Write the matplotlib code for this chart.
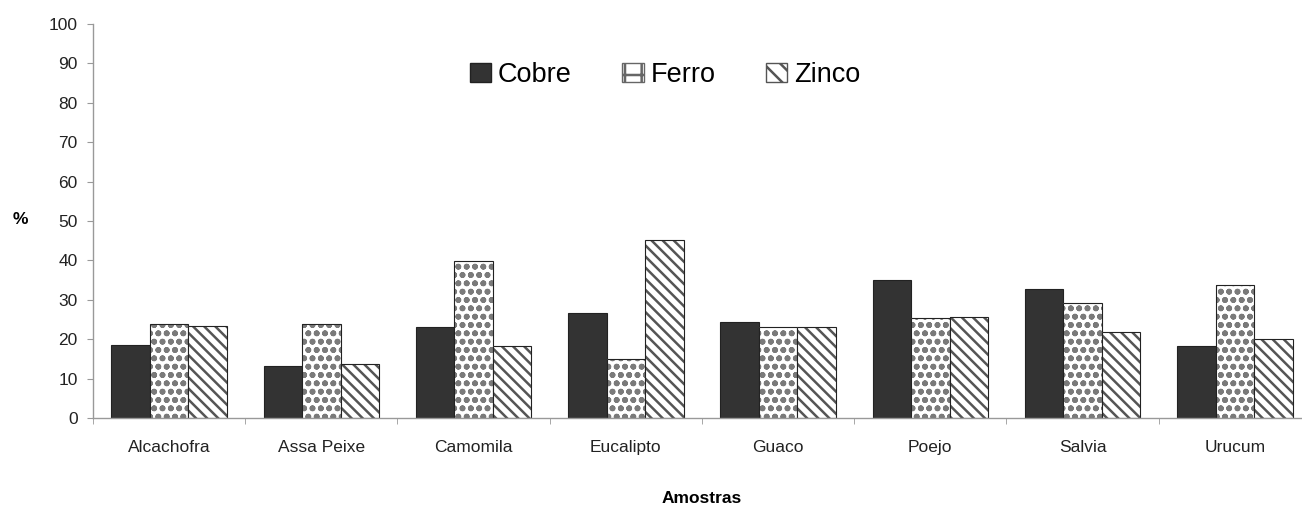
import numpy as np
import matplotlib
matplotlib.use('Agg')
import matplotlib.pyplot as plt

plt.rcParams['font.family'] = ['Liberation Sans', 'DejaVu Sans']
plt.rcParams['hatch.linewidth'] = 1.8

amostras = ['Alcachofra', 'Assa Peixe', 'Camomila', 'Eucalipto',
            'Guaco', 'Poejo', 'Salvia', 'Urucum']
cobre = [18.5, 13.2, 23.0, 26.7, 24.4, 35.0, 32.7, 18.3]
ferro = [23.8, 23.8, 39.9, 14.9, 23.2, 25.5, 29.1, 33.8]
zinco = [23.4, 13.7, 18.3, 45.2, 23.2, 25.7, 21.9, 20.0]


def chart_creator(output_path):
    fig = plt.figure(figsize=(13.02, 5.07), dpi=100)
    ax = fig.add_axes([0.0714, 0.1755, 0.9355, 0.777])

    x = np.arange(len(amostras))
    w = 0.253

    # Cobre: barra cheia escura
    ax.bar(x - w, cobre, w, color='#333333', edgecolor='#222222', linewidth=0.8)

    # Ferro: padrão de pontos; a borda preta vai por cima
    ax.bar(x, ferro, w, color='white', edgecolor='#7a7a7a', hatch='oo', linewidth=0)
    ax.bar(x, ferro, w, fill=False, edgecolor='#222222', linewidth=0.8)

    # Zinco: listras diagonais
    ax.bar(x + w, zinco, w, color='white', edgecolor='#555555', hatch='\\\\\\', linewidth=0)
    ax.bar(x + w, zinco, w, fill=False, edgecolor='#222222', linewidth=0.8)

    ax.set_xlim(-0.5, len(amostras) - 0.5)
    ax.set_ylim(0, 100)
    ax.set_yticks(range(0, 101, 10))
    ax.set_xticks(x)
    ax.set_xticklabels(amostras, fontsize=12.5, color='#222222')
    ax.set_xticks(np.arange(-0.5, len(amostras)), minor=True)
    ax.tick_params(axis='x', which='major', length=0, pad=16)
    ax.tick_params(axis='x', which='minor', length=4, color='#999999', direction='out')
    ax.tick_params(axis='y', length=4, color='#999999', labelsize=12.5,
                   labelcolor='#222222', pad=7)

    for s in ['top', 'right']:
        ax.spines[s].set_visible(False)
    for s in ['left', 'bottom']:
        ax.spines[s].set_color('#999999')
        ax.spines[s].set_linewidth(1)

    ax.set_xlabel('Amostras', fontsize=12.5, fontweight='bold', labelpad=26)
    fig.text(20 / 1302, 1 - 220 / 507, '%', fontsize=12.5, fontweight='bold',
             ha='center', va='center')

    # legenda com amostras quadradas
    h1 = plt.Rectangle((0, 0), 1, 1, facecolor='#333333', edgecolor='#222222')
    h2 = plt.Rectangle((0, 0), 1, 1, facecolor='white', edgecolor='#666666', hatch='+')
    h3 = plt.Rectangle((0, 0), 1, 1, facecolor='white', edgecolor='#555555', hatch='\\\\')
    fig.legend([h1, h2, h3], ['Cobre', 'Ferro', 'Zinco'], loc='center',
               bbox_to_anchor=(665 / 1302, 1 - 75 / 507), ncol=3, frameon=False,
               fontsize=19.5, handlelength=0.8, handleheight=0.75, handletextpad=0.25,
               columnspacing=1.85)

    plt.savefig(output_path, dpi=100)


def main():
    chart_creator('out.png')


if __name__ == '__main__':
    main()
